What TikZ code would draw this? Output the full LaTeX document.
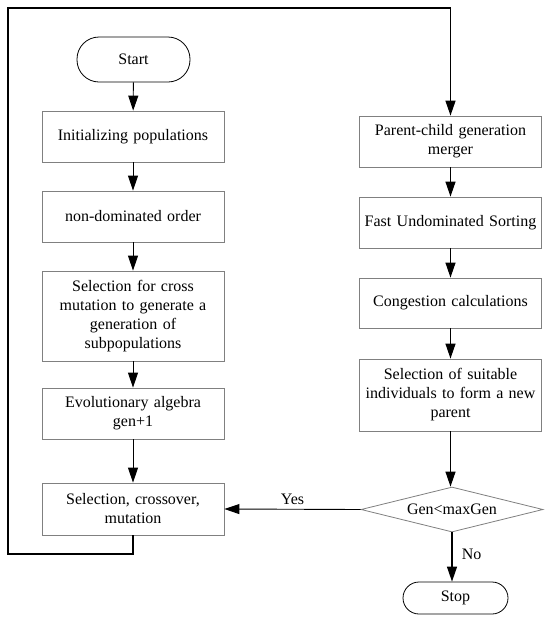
\documentclass[tikz,border=0pt]{standalone}
\usepackage{fontspec}
\setmainfont{Liberation Serif}
\usetikzlibrary{arrows.meta,shapes.geometric}
\begin{document}
\begin{tikzpicture}[x=1pt,y=-1pt,
  font=\fontsize{16}{19}\selectfont,
  box/.style={draw=black!50,line width=0.8pt,rectangle,minimum width=182pt,inner sep=0pt,align=center,text width=176pt},
  term/.style={draw=black,line width=0.8pt,rectangle,rounded corners=16pt,inner sep=0pt,align=center},
  dec/.style={draw=black!50,line width=0.8pt,diamond,aspect=4,inner sep=0pt,minimum width=182pt,minimum height=45pt},
  arl/.style={draw=black,line width=0.9pt,-{Triangle[length=15pt,width=10pt]}},
  arr/.style={draw=black,line width=1.2pt,-{Triangle[length=15pt,width=10pt]}},
  loopline/.style={draw=black,line width=1.4pt}]
\useasboundingbox (0,0) rectangle (550,619);
\fill[white] (0,0) rectangle (550,619);
% left column
\node[term,minimum width=113pt,minimum height=45pt,rounded corners=22pt] (start) at (133.5,59.5) {Start};
\node[box,minimum height=51pt] (init) at (133,136.5) {Initializing populations};
\node[box,minimum height=51pt] (nondom) at (133,216.5) {non-dominated order};
\node[box,minimum height=90pt] (sel) at (133,316) {Selection for cross\\mutation to generate a\\generation of\\subpopulations};
\node[box,minimum height=51pt] (evo) at (133,413.5) {Evolutionary algebra\\gen+1};
\node[box,minimum height=52pt] (selco) at (133,509) {Selection, crossover,\\mutation};
% right column
\node[box,minimum height=51pt] (pc) at (450.5,141.5) {Parent-child generation\\merger};
\node[box,minimum height=51pt] (fast) at (450.5,222.5) {Fast Undominated Sorting};
\node[box,minimum height=50pt] (cong) at (450.5,303) {Congestion calculations};
\node[box,minimum height=72pt] (suit) at (450.5,395) {Selection of suitable\\individuals to form a new\\parent};
\node[dec] (gen) at (452,509.5) {Gen<maxGen};
\node[term,minimum width=105pt,minimum height=32pt] (stop) at (455.5,598) {Stop};
% left arrows
\draw[arl] (start) -- (init);
\draw[arl] (init) -- (nondom);
\draw[arl] (nondom) -- (sel);
\draw[arl] (sel) -- (evo);
\draw[arl] (evo) -- (selco);
% right arrows
\draw[arr] (pc) -- (fast);
\draw[arr] (fast) -- (cong);
\draw[arr] (cong) -- (suit);
\draw[arr] (suit.south) -- (suit.south |- gen.north);
\draw[arr] (gen.south) -- (gen.south |- stop.north) node[pos=0.45,right=6pt] (no) {No};
\draw[arl] (gen.west) -- (selco.east) node[pos=0.5,above=1pt] (yes) {Yes};
% loop
\coordinate (c1) at (133,554);
\coordinate (c2) at (8,554);
\coordinate (c3) at (8,8);
\coordinate (c4) at (450.5,8);
\draw[loopline] (selco.south) -- (c1) -- (c2) -- (c3) -- (c4);
\draw[arr,line width=1.4pt] (c4) -- (pc.north);
\end{tikzpicture}
\end{document}
